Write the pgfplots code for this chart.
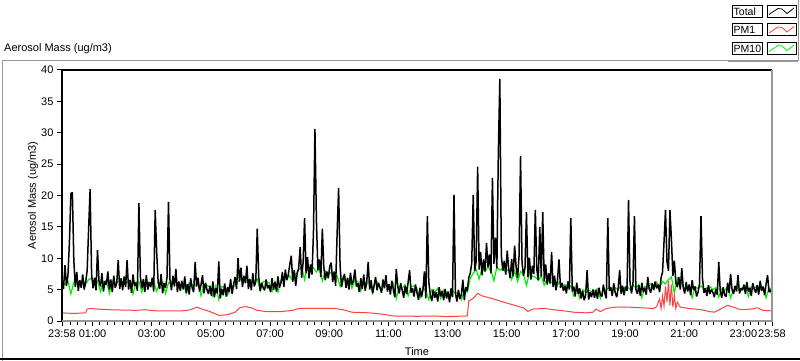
\documentclass[border=0pt]{standalone}
\usepackage{fontspec}
\setmainfont{Liberation Sans}
\usepackage{pgfplots}
\usepackage{pgfplotstable}
\pgfplotsset{compat=1.18}
\definecolor{pmred}{RGB}{255,64,64}
\definecolor{pmgreen}{RGB}{0,240,0}
\definecolor{framegray}{RGB}{150,150,150}

% Total, one value every 3 minutes (0.05 h) starting 23:58
\pgfplotstableread[row sep=\\]{y\\
6.4\\ 5.1\\ 8.9\\ 5.6\\ 7.2\\ 12.4\\ 20.3\\ 20.5\\ 9.6\\ 5.4\\ 7.8\\ 4.8\\ 6.5\\ 5.3\\ 7.4\\ 5.0\\ 6.2\\ 8.0\\ 14.7\\ 21.0\\
7.5\\ 5.2\\ 6.9\\ 4.9\\ 11.3\\ 6.4\\ 5.5\\ 7.6\\ 4.7\\ 6.3\\ 5.8\\ 7.9\\ 5.0\\ 6.6\\ 4.6\\ 7.2\\ 5.3\\ 6.0\\ 9.7\\ 5.1\\
6.8\\ 4.9\\ 7.1\\ 5.4\\ 9.7\\ 5.0\\ 6.5\\ 4.5\\ 7.4\\ 5.6\\ 6.1\\ 4.8\\ 18.8\\ 7.0\\ 5.2\\ 6.7\\ 4.6\\ 7.3\\ 5.0\\ 6.2\\
5.4\\ 6.9\\ 4.7\\ 17.7\\ 11.0\\ 6.2\\ 5.1\\ 7.5\\ 4.4\\ 6.0\\ 5.3\\ 7.0\\ 19.0\\ 6.6\\ 4.9\\ 7.2\\ 5.5\\ 8.3\\ 4.6\\ 6.3\\
4.8\\ 6.4\\ 5.0\\ 7.1\\ 4.5\\ 5.9\\ 4.2\\ 6.8\\ 5.3\\ 4.6\\ 9.4\\ 5.5\\ 6.9\\ 4.7\\ 5.8\\ 7.3\\ 4.4\\ 6.1\\ 5.0\\ 4.3\\
5.6\\ 4.0\\ 6.3\\ 3.8\\ 5.2\\ 4.4\\ 9.5\\ 3.6\\ 5.1\\ 4.1\\ 6.0\\ 3.9\\ 5.4\\ 4.6\\ 6.7\\ 4.3\\ 5.8\\ 7.0\\ 5.1\\ 10.0\\
6.3\\ 8.5\\ 5.4\\ 7.2\\ 6.0\\ 8.8\\ 5.1\\ 6.7\\ 4.9\\ 7.6\\ 5.5\\ 6.3\\ 14.7\\ 7.0\\ 4.8\\ 6.1\\ 5.3\\ 4.9\\ 6.6\\ 5.2\\
5.7\\ 4.6\\ 6.8\\ 5.0\\ 6.2\\ 4.7\\ 7.1\\ 5.3\\ 6.0\\ 7.8\\ 5.4\\ 8.2\\ 6.5\\ 7.4\\ 9.0\\ 10.4\\ 6.3\\ 8.1\\ 5.6\\ 7.6\\
8.4\\ 11.8\\ 6.9\\ 9.3\\ 16.4\\ 7.6\\ 10.2\\ 6.8\\ 9.0\\ 7.4\\ 14.0\\ 30.6\\ 16.0\\ 8.1\\ 9.8\\ 7.0\\ 14.7\\ 8.6\\ 6.5\\ 7.9\\
6.8\\ 8.7\\ 9.3\\ 6.2\\ 7.9\\ 5.6\\ 14.0\\ 21.2\\ 8.8\\ 5.4\\ 6.7\\ 7.5\\ 5.3\\ 6.9\\ 5.0\\ 7.7\\ 5.8\\ 6.4\\ 8.2\\ 5.5\\
6.0\\ 4.6\\ 6.8\\ 5.1\\ 7.4\\ 4.8\\ 6.2\\ 9.4\\ 5.0\\ 6.5\\ 4.4\\ 5.7\\ 7.0\\ 4.9\\ 6.1\\ 5.3\\ 4.5\\ 6.6\\ 5.2\\ 7.3\\
4.7\\ 5.9\\ 4.2\\ 6.4\\ 5.0\\ 3.8\\ 8.3\\ 5.5\\ 4.4\\ 6.0\\ 4.9\\ 3.7\\ 5.6\\ 4.3\\ 6.2\\ 8.1\\ 4.5\\ 5.2\\ 3.9\\ 5.8\\
4.5\\ 3.4\\ 5.3\\ 3.8\\ 4.9\\ 7.9\\ 3.6\\ 16.7\\ 6.2\\ 4.1\\ 3.2\\ 5.0\\ 3.7\\ 4.6\\ 3.1\\ 5.4\\ 3.9\\ 4.8\\ 3.3\\ 5.1\\
3.6\\ 4.7\\ 3.0\\ 5.2\\ 3.8\\ 20.1\\ 4.4\\ 3.1\\ 5.0\\ 3.5\\ 4.2\\ 6.6\\ 3.3\\ 5.4\\ 4.8\\ 6.9\\ 7.6\\ 9.2\\ 20.1\\ 8.0\\
9.5\\ 24.6\\ 8.2\\ 11.0\\ 7.3\\ 9.8\\ 7.9\\ 12.4\\ 8.6\\ 10.6\\ 7.6\\ 22.8\\ 9.1\\ 13.3\\ 8.4\\ 27.0\\ 38.6\\ 10.5\\ 8.0\\ 9.6\\
7.4\\ 11.2\\ 8.3\\ 6.8\\ 9.9\\ 7.1\\ 12.0\\ 8.6\\ 6.9\\ 10.4\\ 26.3\\ 9.3\\ 7.2\\ 8.5\\ 17.4\\ 7.0\\ 10.1\\ 6.6\\ 8.8\\ 7.5\\
17.7\\ 8.2\\ 6.5\\ 15.0\\ 7.1\\ 17.4\\ 6.3\\ 9.0\\ 5.8\\ 7.6\\ 6.0\\ 11.0\\ 5.4\\ 7.2\\ 4.9\\ 6.6\\ 9.8\\ 5.3\\ 6.1\\ 4.8\\
5.6\\ 4.4\\ 6.3\\ 5.0\\ 16.4\\ 4.7\\ 5.5\\ 3.9\\ 6.1\\ 4.3\\ 5.2\\ 3.6\\ 4.8\\ 3.3\\ 4.1\\ 8.1\\ 3.4\\ 4.6\\ 3.8\\ 5.0\\
3.7\\ 4.9\\ 3.5\\ 5.3\\ 4.2\\ 3.9\\ 5.8\\ 4.4\\ 3.6\\ 16.4\\ 4.8\\ 5.4\\ 4.0\\ 6.0\\ 4.5\\ 3.8\\ 5.2\\ 8.1\\ 4.3\\ 5.6\\
4.1\\ 5.5\\ 4.8\\ 19.3\\ 6.2\\ 4.4\\ 5.9\\ 16.7\\ 5.0\\ 4.3\\ 5.7\\ 4.0\\ 6.1\\ 4.6\\ 5.3\\ 4.2\\ 7.0\\ 5.1\\ 4.5\\ 6.0\\
4.9\\ 6.3\\ 5.2\\ 5.8\\ 4.6\\ 6.9\\ 7.8\\ 12.6\\ 17.7\\ 9.5\\ 8.0\\ 17.7\\ 13.0\\ 7.2\\ 9.6\\ 6.1\\ 5.4\\ 7.0\\ 5.0\\ 8.4\\
5.3\\ 4.4\\ 6.2\\ 4.7\\ 5.8\\ 4.1\\ 6.5\\ 4.9\\ 5.5\\ 3.9\\ 4.6\\ 5.9\\ 16.7\\ 6.8\\ 4.5\\ 5.2\\ 4.0\\ 5.7\\ 4.3\\ 5.0\\
4.6\\ 3.8\\ 5.1\\ 4.2\\ 9.4\\ 4.8\\ 3.7\\ 5.4\\ 4.1\\ 3.9\\ 6.1\\ 4.5\\ 7.5\\ 5.0\\ 4.3\\ 5.6\\ 4.7\\ 7.3\\ 4.4\\ 5.2\\
4.9\\ 5.8\\ 4.3\\ 6.2\\ 4.7\\ 5.3\\ 4.0\\ 6.0\\ 5.1\\ 4.5\\ 5.7\\ 4.2\\ 6.4\\ 4.8\\ 5.5\\ 4.1\\ 5.9\\ 7.3\\ 4.6\\ 5.0\\
4.2\\
}\totaltab

% PM10, one value every 6 minutes (0.1 h)
\pgfplotstableread[row sep=\\]{y\\
6.2\\ 5.8\\ 6.4\\ 4.3\\ 6.2\\ 6.3\\ 6.0\\ 6.5\\ 5.9\\ 6.6\\
6.8\\ 6.2\\ 6.4\\ 4.7\\ 6.2\\ 6.5\\ 4.4\\ 6.4\\ 6.1\\ 6.3\\
6.4\\ 5.9\\ 6.2\\ 6.5\\ 4.3\\ 6.2\\ 6.3\\ 4.6\\ 6.1\\ 6.2\\
6.1\\ 6.3\\ 4.7\\ 6.1\\ 6.3\\ 4.4\\ 6.1\\ 5.9\\ 6.2\\ 6.0\\
5.8\\ 6.0\\ 4.4\\ 6.1\\ 5.8\\ 5.6\\ 6.0\\ 4.0\\ 5.9\\ 5.7\\
5.4\\ 3.9\\ 5.6\\ 3.4\\ 5.5\\ 5.4\\ 4.1\\ 5.6\\ 5.5\\ 6.0\\
6.5\\ 6.9\\ 6.2\\ 6.6\\ 6.1\\ 6.4\\ 6.7\\ 4.8\\ 6.3\\ 6.2\\
6.1\\ 4.7\\ 6.3\\ 4.6\\ 6.5\\ 6.9\\ 6.8\\ 7.2\\ 6.4\\ 7.5\\
8.2\\ 8.6\\ 6.6\\ 9.0\\ 8.1\\ 8.5\\ 7.8\\ 8.3\\ 6.4\\ 8.0\\
7.4\\ 7.8\\ 6.8\\ 7.2\\ 5.5\\ 7.0\\ 6.2\\ 6.7\\ 5.2\\ 6.5\\
6.3\\ 4.8\\ 6.5\\ 5.9\\ 6.2\\ 4.5\\ 6.5\\ 6.0\\ 4.7\\ 6.3\\
5.8\\ 5.4\\ 6.0\\ 3.6\\ 5.6\\ 5.2\\ 5.8\\ 4.0\\ 5.5\\ 5.6\\
5.1\\ 3.7\\ 5.3\\ 4.9\\ 3.4\\ 5.0\\ 4.6\\ 5.2\\ 3.6\\ 4.9\\
4.6\\ 3.3\\ 4.8\\ 4.4\\ 4.6\\ 3.4\\ 4.7\\ 4.6\\ 6.8\\ 7.6\\
8.2\\ 6.7\\ 8.5\\ 7.9\\ 8.6\\ 8.0\\ 6.4\\ 8.6\\ 8.1\\ 8.4\\
7.8\\ 8.3\\ 6.6\\ 8.0\\ 6.3\\ 7.9\\ 7.4\\ 5.7\\ 7.6\\ 7.1\\
7.0\\ 6.5\\ 7.2\\ 5.7\\ 6.7\\ 6.0\\ 6.4\\ 5.2\\ 6.2\\ 5.6\\
5.8\\ 5.3\\ 5.6\\ 4.0\\ 5.3\\ 3.6\\ 5.0\\ 4.6\\ 4.9\\ 4.7\\
4.8\\ 5.1\\ 3.6\\ 5.2\\ 4.9\\ 5.4\\ 4.7\\ 5.3\\ 5.0\\ 5.5\\
5.2\\ 5.6\\ 5.0\\ 5.7\\ 5.3\\ 5.8\\ 3.7\\ 5.5\\ 5.2\\ 5.9\\
5.7\\ 6.2\\ 5.4\\ 6.3\\ 5.9\\ 6.6\\ 7.0\\ 4.4\\ 6.9\\ 6.4\\
5.5\\ 5.1\\ 5.7\\ 3.7\\ 5.4\\ 5.2\\ 5.6\\ 5.0\\ 5.3\\ 5.5\\
5.0\\ 5.3\\ 3.8\\ 5.1\\ 4.9\\ 5.4\\ 3.7\\ 5.0\\ 5.2\\ 4.9\\
5.3\\ 5.6\\ 3.9\\ 5.5\\ 5.2\\ 5.7\\ 5.0\\ 5.4\\ 3.7\\ 5.3\\
5.1\\
}\pmtentab

\begin{document}
\begin{tikzpicture}[font=\fontsize{11bp}{13bp}\selectfont]
\useasboundingbox (0bp,0bp) rectangle (800bp,361bp);
\begin{scope}[x=1bp,y=1bp]
% panel frame
\draw[framegray,line width=1bp] (2,0) -- (2,300) -- (728,300);
\draw[framegray,line width=2bp] (728,300) -- (798,300);
\draw[black,line width=2bp] (0,2) -- (800,2);
\node[anchor=west,inner sep=0pt] at (4,312) {Aerosol Mass (ug/m3)};
% legend
\foreach \t/\lbl/\col in {355.5/Total/black, 337/PM1/pmred, 318.5/PM10/pmgreen}{
  \draw[black,line width=1bp,fill=white] (732,\t) rectangle (762,\t-12);
  \node[anchor=west,inner sep=0pt,font=\fontsize{10.5bp}{12bp}\selectfont] at (733.5,\t-6) {\lbl};
  \draw[black,line width=1bp,fill=white] (767,\t) rectangle (796,\t-12);
  \draw[\col,line width=0.8bp] (769,\t-9) -- (778,\t-3) -- (782,\t-3.5) -- (787,\t-8) -- (794,\t-2.5);
}
\draw[framegray,line width=1bp] (798,361) -- (798,300);
\end{scope}
\begin{axis}[
  at={(62bp,40bp)}, anchor=south west,
  scale only axis, width=710bp, height=251bp,
  xmin=0, xmax=24, ymin=0, ymax=40,
  clip=false,
  axis line style={draw=none},
  tick align=outside, tick pos=left,
  major tick length=5bp, minor tick length=4bp,
  every tick/.style={black,line width=1bp},
  ytick={0,5,10,15,20,25,30,35,40},
  /pgf/number format/assume math mode=true,
  xtick={0,1.0333,3.0333,5.0333,7.0333,9.0333,11.0333,13.0333,15.0333,17.0333,19.0333,21.0333,23.0333,24},
  xticklabels={23:58,01:00,03:00,05:00,07:00,09:00,11:00,13:00,15:00,17:00,19:00,21:00,23:00,23:58},
  minor xtick={0.2833,0.5333,...,23.8},
  xlabel={Time}, ylabel={Aerosol Mass (ug/m3)},
  every axis x label/.style={at={(axis description cs:0.5,-0.1235)},anchor=center},
  every axis y label/.style={at={(axis description cs:-0.0408,0.5)},anchor=center,rotate=90},
  tick label style={font=\fontsize{11bp}{13bp}\selectfont},
]
\addplot[pmgreen,line width=1.2bp] table[x expr=\coordindex/10,y=y] {\pmtentab};
\addplot[black,line width=1.5bp,line join=bevel] table[x expr=\coordindex/20,y=y] {\totaltab};
\addplot[pmred,line width=1bp] coordinates {
(0,1.3) (0.4,1.2) (0.8,1.3) (0.85,1.9) (0.95,2.0) (1.2,1.9) (1.6,1.8) (2.0,1.75) (2.5,1.7) (2.8,1.8)
(3.2,1.6) (3.8,1.6) (4.2,1.65) (4.4,1.9) (4.55,2.2) (4.8,1.8) (5.0,1.5) (5.3,0.9) (5.6,1.0) (5.85,1.4)
(6.0,2.1) (6.2,2.3) (6.4,2.1) (6.6,1.7) (6.9,1.5) (7.4,1.5) (7.8,1.7) (8.0,2.0) (8.6,2.0) (9.2,2.0)
(9.5,1.8) (9.8,1.4) (10.4,1.3) (10.8,1.1) (11.2,0.8) (12.0,0.75) (12.6,0.8) (13.0,0.7) (13.7,0.8)
(13.75,3.2) (13.9,3.6) (14.05,4.4) (14.2,4.0) (14.6,3.5) (15.0,2.9) (15.3,2.5) (15.6,2.1) (15.75,1.5)
(15.9,1.9) (16.3,2.0) (16.6,1.8) (17.0,1.6) (17.3,1.4) (17.7,1.3) (17.95,1.4) (18.05,1.9) (18.2,1.5)
(18.4,2.0) (18.7,2.2) (19.2,2.2) (19.6,2.1) (20.0,2.0) (20.1,2.3) (20.2,3.5) (20.25,2.0) (20.3,4.0)
(20.35,2.4) (20.4,5.5) (20.45,3.0) (20.5,6.4) (20.55,2.5) (20.6,5.8) (20.65,2.2) (20.7,4.0) (20.75,2.0)
(20.8,3.0) (20.9,2.2) (21.2,2.0) (21.6,1.8) (21.9,1.5) (22.05,1.4) (22.3,2.0) (22.5,2.5) (22.7,2.2)
(22.95,1.8) (23.3,1.9) (23.5,2.1) (23.7,1.7) (24,1.6)
};
\draw[black,line width=1.5bp] (rel axis cs:0,0) -- (rel axis cs:0,1) -- (rel axis cs:1,1);
\draw[framegray,line width=1.5bp] (rel axis cs:1,1) -- (rel axis cs:1,0) -- (rel axis cs:0,0);
\end{axis}
\end{tikzpicture}
\end{document}
